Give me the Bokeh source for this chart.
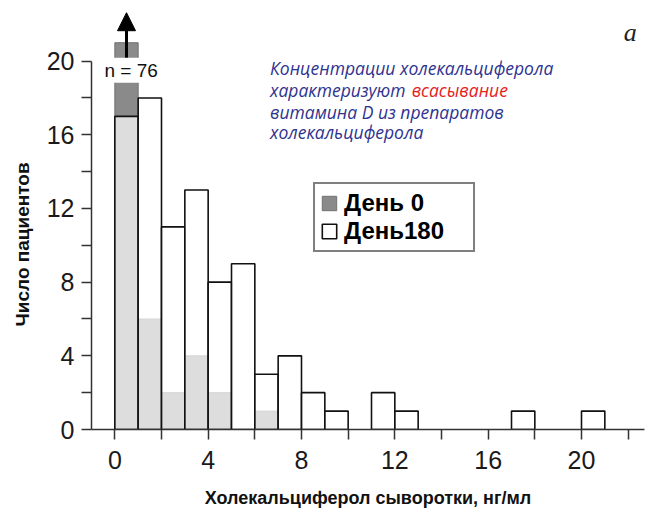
import numpy as np
from bokeh.plotting import figure
from bokeh.models import (FixedTicker, Label, Arrow, NormalHead, Legend, LegendItem,
                          ColumnDataSource, Range1d, Title)
from bokeh.embed import file_html
from bokeh.resources import INLINE

# ---- data -------------------------------------------------------------
bin_left = list(range(0, 22))            # histogram bins, width 1 ng/ml
day0   = [76, 6, 2, 4, 2, 0, 1, 0, 0, 0, 0, 0, 0, 0, 0, 0, 0, 0, 0, 0, 0, 0]
day180 = [17, 18, 11, 13, 8, 9, 3, 4, 2, 1, 0, 2, 1, 0, 0, 0, 0, 1, 0, 0, 1, 0]
x_ticks = [0, 4, 8, 12, 16, 20]
x_minor = [2, 6, 10, 14, 18, 22]
y_ticks = [0, 4, 8, 12, 16, 20]
y_minor = [2, 6, 10, 14, 18]
series_names = ["День 0", "День180"]
y_title = "Число пациентов"
x_title = "Холекальциферол сыворотки, нг/мл"
note_lines = ["Концентрации холекальциферола", "характеризуют ", "витамина D из препаратов",
              "холекальциферола"]
note_red = "всасывание"
panel_letter = "а"
display_cap = 21.0   # the off-scale bar is cut here and marked with an arrow

# ---- sources ----------------------------------------------------------
def src(vals, cap=None):
    l = [b for b, v in zip(bin_left, vals) if v > 0]
    t = [min(v, cap) if cap else v for v in vals if v > 0]
    return ColumnDataSource(dict(left=l, right=[a + 1 for a in l], top=t, bottom=[0] * len(l)))

s0 = src(day0, display_cap)
s180 = src(day180)

p = figure(width=648, height=510, output_backend="svg", toolbar_location=None,
           x_range=Range1d(-1.0, 22.7), y_range=Range1d(0, 22.75),
           min_border_left=91, min_border_right=4, min_border_top=10, min_border_bottom=77)
p.outline_line_color = None
p.xgrid.grid_line_color = None
p.ygrid.grid_line_color = None

r0 = p.quad(left="left", right="right", top="top", bottom="bottom", source=s0,
            fill_color="#8a8a8a", line_color="#707070", line_width=1)
r180 = p.quad(left="left", right="right", top="top", bottom="bottom", source=s180,
              fill_color="white", fill_alpha=0.71, line_color="#111111", line_width=1.6)

# axes
for ax, ticks, minor in ((p.xaxis[0], x_ticks, x_minor), (p.yaxis[0], y_ticks, y_minor)):
    ax.ticker = FixedTicker(ticks=ticks, minor_ticks=minor)
    ax.axis_line_color = "#333333"
    ax.axis_line_width = 1.5
    ax.major_tick_line_color = "#333333"
    ax.minor_tick_line_color = "#333333"
    ax.major_tick_line_width = 1.5
    ax.minor_tick_line_width = 1.5
    ax.major_tick_in = 0
    ax.major_tick_out = 10
    ax.minor_tick_in = 0
    ax.minor_tick_out = 10
    ax.major_label_text_font = "Liberation Sans"
    ax.major_label_text_font_size = "25px"
    ax.major_label_text_color = "#1a1a1a"
    ax.axis_label_text_font = "Liberation Sans"
    ax.axis_label_text_font_style = "bold"
    ax.axis_label_text_color = "#111111"

p.yaxis.bounds = (0, 20)
p.yaxis.major_label_standoff = 7
p.xaxis.major_label_standoff = 11
p.xaxis.axis_label = x_title
p.xaxis.axis_label_text_font_size = "18px"
p.xaxis.axis_label_standoff = 16

# y title: placed in the left panel, offset along the axis like the original
p.add_layout(Title(text=y_title, align="left", offset=103, standoff=18, vertical_align="top",
                   text_font="Liberation Sans", text_font_style="bold",
                   text_font_size="19px", text_color="#111111"), "left")

# off-scale marker
xc = bin_left[0] + 0.5
p.add_layout(Arrow(end=NormalHead(size=18, fill_color="black", line_color="black"),
                   x_start=xc, y_start=18.9, x_end=xc, y_end=22.63,
                   line_width=3, line_color="black"))
p.add_layout(Label(x=xc + 0.2, y=19.5, text=f"n = {day0[0]}", text_align="center",
                   text_baseline="middle", text_font="Liberation Sans", text_font_size="19px",
                   text_color="#111111", background_fill_color="white", padding=2))

# note text
blue = "#2f338f"
ys = [19.62, 18.44, 17.26, 16.13]
x_note = 6.65
for t, yy in zip(note_lines, ys):
    p.add_layout(Label(x=x_note, y=yy, text=t, text_baseline="middle", text_font="Open Sans",
                       text_font_style="italic", text_font_size="17.5px", text_color=blue))
p.add_layout(Label(x=12.72, y=ys[1], text=note_red, text_baseline="middle", text_font="Open Sans",
                   text_font_style="italic", text_font_size="17.5px", text_color="#e3211c"))

p.add_layout(Label(x=22.09, y=21.56, text=panel_letter, text_align="center", text_baseline="middle",
                   text_font="Liberation Serif", text_font_style="italic", text_font_size="26px",
                   text_color="#222222"))

legend = Legend(items=[LegendItem(label=series_names[0], renderers=[r0]),
                       LegendItem(label=series_names[1], renderers=[r180])],
                location=(222, 177), border_line_color="black", border_line_width=2,
                background_fill_color="white", background_fill_alpha=1,
                label_text_font="Liberation Sans", label_text_font_style="bold",
                label_text_font_size="24px", label_text_color="black",
                glyph_width=18, glyph_height=18, label_standoff=6, label_height=24,
                label_width=124, padding=5, spacing=0, margin=0)
p.add_layout(legend, "center")

open("out.html", "w").write(file_html(p, INLINE))
